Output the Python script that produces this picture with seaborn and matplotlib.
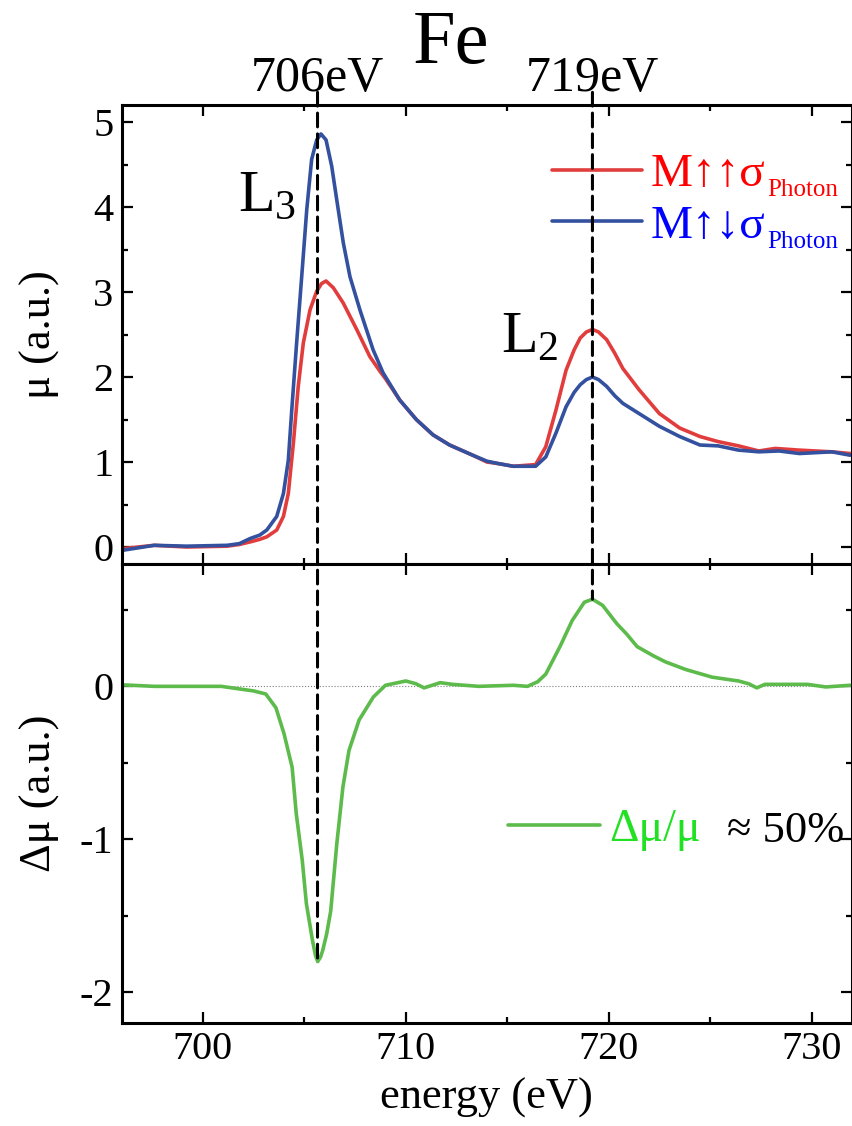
import matplotlib
matplotlib.use("Agg")
import matplotlib.pyplot as plt
import matplotlib.transforms as mtransforms
from matplotlib.patches import ConnectionPatch
from matplotlib.ticker import MultipleLocator
import seaborn as sns

# --- data (Fe L-edge XMCD) ---
# M parallel to photon spin (red)
e_para = [696.0, 697.6, 699.2, 701.2, 701.8, 702.33, 702.8, 703.15, 703.64, 703.97,
          704.21, 704.46, 704.70, 704.95, 705.28, 705.61, 705.85, 706.07, 706.43, 706.92,
          707.58, 708.23, 708.72, 709.0, 709.70, 710.52, 711.34, 712.16, 713.3, 714.0,
          714.6, 715.3, 716.4, 716.9, 717.4, 717.9, 718.3, 718.6, 718.9, 719.2,
          719.5, 719.9, 720.3, 720.7, 721.5, 722.5, 723.5, 724.5, 725.4, 726.4,
          727.4, 728.2, 729.4, 731.0, 731.9]
mu_para = [-0.02, 0.02, 0.0, 0.01, 0.03, 0.06, 0.09, 0.12, 0.20, 0.36,
           0.63, 1.22, 1.89, 2.40, 2.79, 3.01, 3.10, 3.13, 3.05, 2.87,
           2.56, 2.24, 2.07, 1.98, 1.73, 1.50, 1.32, 1.20, 1.08, 1.00,
           0.98, 0.95, 0.97, 1.18, 1.61, 2.08, 2.32, 2.46, 2.53, 2.56,
           2.53, 2.44, 2.28, 2.10, 1.85, 1.57, 1.40, 1.30, 1.24, 1.19,
           1.13, 1.16, 1.14, 1.12, 1.10]

# M antiparallel to photon spin (blue)
e_anti = [696.0, 697.6, 699.2, 701.2, 701.8, 702.33, 702.8, 703.15, 703.64, 703.97,
          704.21, 704.38, 704.62, 704.87, 705.12, 705.36, 705.61, 705.82, 706.07, 706.35,
          706.62, 706.92, 707.25, 707.74, 708.39, 708.88, 709.70, 710.52, 711.34, 712.16,
          713.3, 714.0, 714.6, 715.3, 716.4, 716.9, 717.4, 717.9, 718.3, 718.6,
          718.9, 719.2, 719.5, 719.9, 720.3, 720.7, 721.5, 722.5, 723.5, 724.5,
          725.4, 726.4, 727.4, 728.4, 729.4, 731.0, 731.9]
mu_anti = [-0.04, 0.02, 0.01, 0.02, 0.04, 0.10, 0.14, 0.20, 0.36, 0.63,
           1.02, 1.61, 2.40, 3.18, 3.97, 4.56, 4.79, 4.86, 4.79, 4.48,
           4.05, 3.58, 3.18, 2.79, 2.32, 2.05, 1.73, 1.50, 1.32, 1.20,
           1.08, 1.01, 0.98, 0.95, 0.95, 1.06, 1.34, 1.65, 1.82, 1.91,
           1.97, 2.00, 1.97, 1.89, 1.78, 1.69, 1.57, 1.42, 1.30, 1.20,
           1.19, 1.14, 1.12, 1.13, 1.10, 1.12, 1.08]

# difference signal (green)
e_diff = [696.0, 697.6, 699.2, 700.9, 701.7, 702.5, 703.1, 703.6, 704.0, 704.4,
          704.6, 704.9, 705.1, 705.4, 705.55, 705.66, 705.8, 705.9, 706.1, 706.3,
          706.6, 706.9, 707.2, 707.7, 708.4, 709.0, 710.0, 710.5, 710.9, 711.7,
          712.3, 713.6, 715.3, 716.0, 716.5, 716.9, 717.6, 718.2, 718.8, 719.2,
          719.7, 720.4, 720.9, 721.4, 722.2, 722.8, 723.8, 725.1, 726.4, 726.9,
          727.3, 727.7, 729.8, 730.7, 731.9]
d_mu = [0.01, 0.0, 0.0, 0.0, -0.015, -0.03, -0.05, -0.14, -0.31, -0.53,
        -0.83, -1.14, -1.42, -1.66, -1.76, -1.80, -1.77, -1.73, -1.62, -1.47,
        -1.03, -0.66, -0.42, -0.22, -0.07, 0.007, 0.035, 0.017, -0.01, 0.024,
        0.013, 0.0, 0.007, 0.0, 0.03, 0.08, 0.26, 0.43, 0.55, 0.57,
        0.53, 0.41, 0.34, 0.26, 0.20, 0.16, 0.11, 0.06, 0.035, 0.017,
        -0.01, 0.013, 0.013, -0.004, 0.007]

edge_pos = [705.65, 719.2]
edge_end = [-1.80, 0.57]
edge_labels = ["706eV", "719eV"]

red_line, blue_line, green_line = "#E23D3D", "#34519F", "#5DBB4C"

sns.set_theme(style="ticks")
plt.rcParams["font.family"] = ["Liberation Serif", "DejaVu Serif"]
plt.rcParams["mathtext.fontset"] = "custom"
plt.rcParams["mathtext.rm"] = "Liberation Serif"
plt.rcParams["mathtext.it"] = "Liberation Serif:italic"
plt.rcParams["text.color"] = "black"
plt.rcParams["axes.labelcolor"] = "black"

fig = plt.figure(figsize=(8.53, 11.26), dpi=100)
ax1 = fig.add_axes([0.1427, 0.4991, 0.8563, 0.4076])
ax2 = fig.add_axes([0.1427, 0.0917, 0.8563, 0.4074], sharex=ax1)

sns.lineplot(x=e_para, y=mu_para, ax=ax1, color=red_line, lw=2.6, sort=False)
l_para = ax1.lines[-1]
sns.lineplot(x=e_anti, y=mu_anti, ax=ax1, color=blue_line, lw=2.6, sort=False)
l_anti = ax1.lines[-1]

ax2.axhline(0, color="gray", lw=0.8, ls=":", zorder=1)
sns.lineplot(x=e_diff, y=d_mu, ax=ax2, color=green_line, lw=2.6, sort=False)
l_diff = ax2.lines[-1]

ax1.set_xlim(696, 732)
ax1.set_ylim(-0.2, 5.2)
ax2.set_ylim(-2.2, 0.8)
ax1.set_yticks([0, 1, 2, 3, 4, 5])
ax2.set_yticks([-2, -1, 0])
ax2.set_yticklabels(["-2", "-1", "0"])
ax1.set_xticks([700, 710, 720, 730])
for ax in (ax1, ax2):
    ax.xaxis.set_minor_locator(MultipleLocator(5))
    ax.yaxis.set_minor_locator(MultipleLocator(0.5))
    ax.tick_params(which="both", direction="in", top=True, right=True,
                   width=1.6, color="black", labelsize=29, labelcolor="black")
    ax.tick_params(which="major", length=8, pad=6)
    ax.tick_params(which="minor", length=4)
    for s in ax.spines.values():
        s.set_linewidth(2.2)
        s.set_color("black")
ax1.tick_params(labelbottom=False)

ax1.set_ylabel("μ (a.u.)", fontsize=32)
ax1.yaxis.set_label_coords(-0.085, 0.5)
ax2.set_ylabel("Δμ (a.u.)", fontsize=32)
ax2.yaxis.set_label_coords(-0.085, 0.5)
ax2.set_xlabel("energy (eV)", fontsize=32)
ax2.xaxis.set_label_coords(0.5, -0.12)

# edge labels
ax1.text(701.75, 3.95, r"L$_3$", fontsize=43, ha="left", va="baseline")
ax1.text(714.7, 2.285, r"L$_2$", fontsize=43, ha="left", va="baseline")

# dashed markers at the edges, running across both panels
top_trans = mtransforms.blended_transform_factory(ax1.transData, fig.transFigure)
for x, yend, lab in zip(edge_pos, edge_end, edge_labels):
    con = ConnectionPatch(xyA=(x, 0.918), coordsA=top_trans,
                          xyB=(x, yend), coordsB=ax2.transData,
                          color="black", lw=2.2, linestyle=(0, (4.5, 2.3)), zorder=5)
    fig.add_artist(con)
    ax1.text(x, 0.919, lab, transform=top_trans, fontsize=36,
             ha="center", va="baseline", clip_on=False)

fig.text(0.529, 0.944, "Fe", fontsize=55, ha="center", va="baseline")

# legends
leg1 = ax1.legend(handles=[l_para, l_anti], labels=["M↑↑σ", "M↑↓σ"],
                  loc="upper left", bbox_to_anchor=(0.589, 0.895), frameon=False,
                  fontsize=34, handlelength=1.9, handletextpad=0.2,
                  labelspacing=0.18, borderpad=0, borderaxespad=0)
for t, c in zip(leg1.get_texts(), ["#FF0000", "#0000FF"]):
    t.set_color(c)
    ax1.annotate("Photon", xy=(1, 0), xycoords=t, xytext=(1, -5),
                 textcoords="offset pixels", fontsize=18, color=c,
                 ha="left", va="bottom", zorder=10, annotation_clip=False)

leg2 = ax2.legend(handles=[l_diff], labels=["Δμ/μ"], loc="upper left",
                  bbox_to_anchor=(0.529, 0.468), frameon=False, fontsize=33,
                  handlelength=2.0, handletextpad=0.2, borderpad=0, borderaxespad=0)
gt = leg2.get_texts()[0]
gt.set_color("#22E022")
ax2.annotate("≈ 50%", xy=(1, 0), xycoords=gt, xytext=(27, 0),
             textcoords="offset pixels", fontsize=32, color="black",
             ha="left", va="bottom", zorder=10, annotation_clip=False)

fig.savefig("out.png", dpi=100)
